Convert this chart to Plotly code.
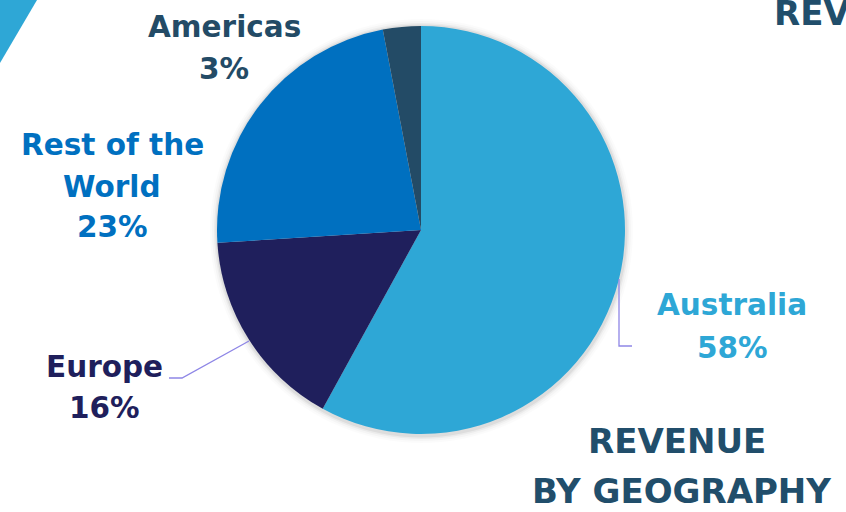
import plotly.graph_objects as go

W, H = 846, 512

# Data
regions = ["Australia", "Europe", "Rest of the World", "Americas"]
shares = [58, 16, 23, 3]
colors = ["#2EA7D6", "#1F1F5C", "#0070C0", "#234B66"]
label_lines = [["Australia", "58%"], ["Europe", "16%"], ["Rest of the", "World", "23%"], ["Americas", "3%"]]
title_lines = ["REVENUE", "BY GEOGRAPHY"]


def px(x):
    return x / W


def py(y):
    return 1 - y / H


cx, cy, r = 421, 230, 204

fig = go.Figure()
fig.add_trace(go.Pie(
    labels=regions,
    values=shares,
    sort=False,
    direction="clockwise",
    rotation=0,
    marker=dict(colors=colors, line=dict(width=0)),
    textinfo="none",
    hoverinfo="label+percent",
    showlegend=False,
    domain=dict(x=[px(cx - r), px(cx + r)], y=[py(cy + r), py(cy - r)]),
))

shapes = []
for k, a in [(7, 0.015), (5, 0.025), (3, 0.04), (1.5, 0.06)]:
    shapes.append(dict(type="circle", xref="paper", yref="paper", layer="below",
                       x0=px(cx - r - k), x1=px(cx + r + k + 1),
                       y0=py(cy + r + k + 2), y1=py(cy - r - k),
                       fillcolor=f"rgba(0,0,0,{a})", line=dict(width=0)))

shapes.append(dict(type="path", xref="paper", yref="paper",
                   path=f"M {px(0)},{py(0)} L {px(37)},{py(0)} L {px(0)},{py(63)} Z",
                   fillcolor="#2EA7D6", line=dict(width=0)))

lead = "#8E86E6"
shapes.append(dict(type="path", xref="paper", yref="paper",
                   path=f"M {px(619)},{py(279)} L {px(619)},{py(346)} L {px(632)},{py(346)}",
                   line=dict(color=lead, width=1.3)))
shapes.append(dict(type="path", xref="paper", yref="paper",
                   path=f"M {px(249)},{py(341)} L {px(182)},{py(378)} L {px(169)},{py(378)}",
                   line=dict(color=lead, width=1.3)))

LS = 29.5
font_lbl = "DejaVu Sans"
label_pos = [(732, [315, 358]), (104, [377, 418]), (112, [155, 197, 237]), (224, [37, 79])]
annotations = []
for lines, (x, bases), c in zip(label_lines, label_pos, colors):
    for t, b in zip(lines, bases):
        annotations.append(dict(text=f"<b>{t}</b>", x=px(x), y=py(b - 0.36 * LS + 1),
                                xref="paper", yref="paper",
                                xanchor="center", yanchor="middle", showarrow=False,
                                font=dict(family=font_lbl, size=LS, color=c)))

title_color = "#214E6B"
TS = 34
for t, x, b in zip(title_lines, [677, 681], [452, 502]):
    annotations.append(dict(text=f"<b>{t}</b>", x=px(x), y=py(b - 0.36 * TS + 1),
                            xref="paper", yref="paper",
                            xanchor="center", yanchor="middle", showarrow=False,
                            font=dict(family=font_lbl, size=TS, color=title_color)))
annotations.append(dict(text="<b>REVENUE BY GEOGRAPHY</b>", x=px(772), y=py(24 - 0.36 * TS + 1),
                        xref="paper", yref="paper",
                        xanchor="left", yanchor="middle", showarrow=False,
                        font=dict(family=font_lbl, size=TS, color=title_color)))

fig.update_layout(
    width=W, height=H,
    margin=dict(l=0, r=0, t=0, b=0),
    paper_bgcolor="white", plot_bgcolor="white",
    shapes=shapes, annotations=annotations,
)

fig.write_html("out.html")
